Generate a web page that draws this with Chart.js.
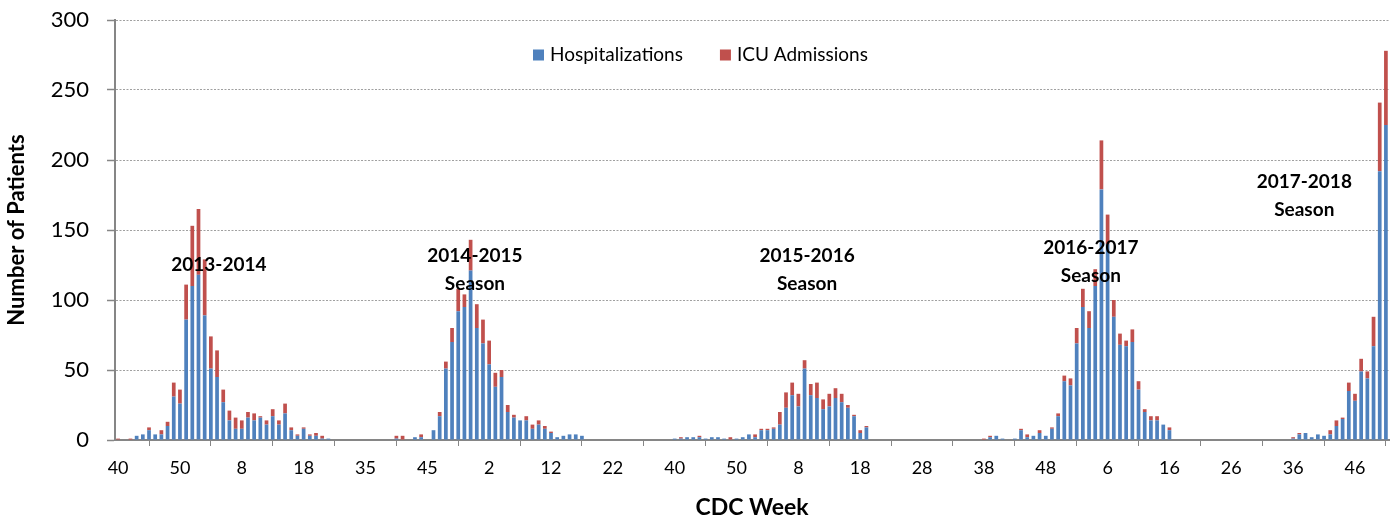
<!DOCTYPE html>
<html>
<head>
<meta charset="utf-8">
<script src="https://cdn.jsdelivr.net/npm/chart.js@4.4.1/dist/chart.umd.min.js"></script>
<style>
  html, body { margin: 0; padding: 0; background: #fff; }
  #wrap { width: 1395px; height: 522px; position: relative; }
</style>
</head>
<body>
<div id="wrap"><canvas id="chart"></canvas></div>
<script>
// CDC week numbers, one per bar slot (off-season weeks are partly left out)
const weeks = [
  40, 41, 42, 43, 44, 45, 46, 47, 48, 49, 50, 51, 52,
  1, 2, 3, 4, 5, 6, 7, 8, 9, 10, 11, 12, 13, 14, 15, 16, 17, 18,
  19, 20, 21, 22, 23, 31, 32, 33, 34,
  35, 36, 37, 38, 39, 40, 41, 42, 43, 44, 45,
  46, 47, 48, 49, 50, 51, 52, 53, 1, 2,
  3, 4, 5, 6, 7, 8, 9, 10, 11, 12, 13, 14, 15, 16, 17, 18, 19, 20, 21, 22,
  23, 24, 25, 26, 27, 36, 37, 38, 39,
  40, 41, 42, 43, 44, 45, 46, 47, 48, 49, 50, 51, 52,
  1, 2, 3, 4, 5, 6, 7, 8, 9, 10, 11, 12, 13, 14, 15, 16, 17, 18, 19, 20,
  21, 22, 23, 24, 25, 26, 27, 28, 29, 30, 31, 32, 33, 34, 35, 36, 37, 38, 39, 40,
  41, 42, 43, 44, 45, 46, 47, 48, 49, 50, 51, 52,
  1, 2, 3, 4, 5, 6, 7, 8, 9, 10, 11, 12, 13, 14, 15, 16, 17, 18, 19, 20,
  21, 22, 23, 24, 25, 26, 27, 28, 29, 30, 31, 32, 33, 34, 35, 36, 37, 38, 39, 40,
  41, 42, 43, 44, 45, 46, 47, 48, 49, 50, 51
];

const hospitalizations = [
  0, 0, 0, 3, 4, 7, 4, 4, 10, 31,
  26, 86, 110, 118, 89, 51, 45, 27, 14, 8,
  8, 16, 14, 16, 11, 17, 11, 19, 7, 3,
  8, 3, 3, 1, 1, 0, 0, 0, 0, 0,
  0, 0, 0, 0, 0, 1, 0, 0, 2, 2,
  0, 7, 17, 51, 70, 92, 95, 121, 80, 69,
  54, 38, 45, 20, 16, 14, 14, 8, 11, 8,
  5, 2, 3, 4, 4, 3, 0, 0, 0, 0,
  0, 0, 0, 0, 0, 0, 0, 0, 0, 0,
  1, 1, 2, 2, 2, 1, 2, 2, 1, 0,
  1, 2, 4, 2, 7, 7, 8, 11, 23, 32,
  24, 51, 32, 30, 22, 24, 30, 27, 23, 17,
  5, 9, 0, 0, 0, 0, 0, 0, 0, 0,
  0, 0, 0, 0, 0, 0, 0, 0, 0, 0,
  0, 2, 3, 1, 0, 1, 7, 2, 3, 5,
  3, 8, 17, 42, 39, 69, 95, 80, 110, 179,
  140, 88, 68, 67, 70, 36, 20, 14, 14, 11,
  7, 0, 0, 0, 0, 0, 0, 0, 0, 0,
  0, 0, 0, 0, 0, 0, 0, 0, 0, 0,
  1, 4, 5, 2, 4, 3, 4, 10, 15, 35,
  28, 49, 44, 67, 192, 225
];

const icuAdmissions = [
  1, 0, 1, 0, 0, 2, 0, 3, 3, 10,
  10, 25, 43, 47, 40, 23, 19, 9, 7, 8,
  6, 4, 5, 1, 3, 5, 3, 7, 2, 1,
  1, 1, 2, 2, 0, 0, 0, 0, 0, 0,
  0, 0, 0, 0, 0, 2, 3, 0, 0, 2,
  0, 0, 3, 5, 10, 16, 9, 22, 17, 17,
  17, 10, 5, 5, 2, 0, 3, 3, 3, 2,
  1, 0, 0, 0, 0, 0, 0, 0, 0, 0,
  0, 0, 0, 0, 0, 0, 0, 0, 0, 0,
  0, 1, 0, 0, 1, 0, 0, 0, 0, 2,
  0, 0, 0, 2, 1, 1, 1, 9, 11, 9,
  9, 6, 8, 11, 7, 9, 7, 6, 2, 1,
  2, 1, 0, 0, 0, 0, 0, 0, 0, 0,
  0, 0, 0, 0, 0, 0, 0, 0, 0, 0,
  1, 1, 0, 0, 0, 0, 1, 2, 0, 2,
  0, 1, 2, 4, 5, 11, 13, 12, 12, 35,
  21, 12, 8, 4, 9, 6, 2, 3, 3, 0,
  2, 0, 0, 0, 0, 0, 0, 0, 0, 0,
  0, 0, 0, 0, 0, 0, 0, 0, 0, 0,
  1, 1, 0, 0, 0, 0, 3, 4, 1, 6,
  5, 9, 5, 21, 49, 53
];

const yTicks = [0, 50, 100, 150, 200, 250, 300];

// season captions: text lines, bar slot they sit over, patient value of the first line
const seasonText = [["2013-2014"], ["2014-2015", "Season"], ["2015-2016", "Season"], ["2016-2017", "Season"], ["2017-2018", "Season"]];
const seasonSlot = [16.3, 57.7, 111.4, 157.3, 191.8];
const seasonValue = [125, 131.4, 131.4, 137.1, 184.3];

const BLUE = '#4f81bd';
const RED = '#c0504d';
const AXIS_GREY = '#868686';
const FONT = 'Lato';

// the legend sits inside the plot, a bit left of centre
const LEGEND_X = 533;
const LEGEND_Y = 55;

const insideLegend = {
  id: 'insideLegend',
  afterDraw(chart) {
    const { ctx } = chart;
    ctx.save();
    ctx.font = `19px ${FONT}`;
    ctx.textBaseline = 'middle';
    let x = LEGEND_X;
    chart.data.datasets.forEach((ds) => {
      ctx.fillStyle = ds.backgroundColor;
      ctx.fillRect(x, LEGEND_Y - 5.5, 11, 11);
      ctx.fillStyle = '#000';
      ctx.fillText(ds.label, x + 17, LEGEND_Y);
      x += 17 + ctx.measureText(ds.label).width + 37;
    });
    ctx.restore();
  }
};

const seasonLabels = {
  id: 'seasonLabels',
  afterDatasetsDraw(chart) {
    const { ctx, scales: { x, y } } = chart;
    ctx.save();
    ctx.font = `bold 19px ${FONT}`;
    ctx.fillStyle = '#000';
    ctx.textAlign = 'center';
    ctx.textBaseline = 'middle';
    seasonText.forEach((lines, i) => {
      const px = x.getPixelForValue(seasonSlot[i]);
      const py = y.getPixelForValue(seasonValue[i]);
      lines.forEach((line, j) => ctx.fillText(line, px, py + j * 28));
    });
    ctx.restore();
  }
};

new Chart(document.getElementById('chart'), {
  type: 'bar',
  data: {
    labels: weeks,
    datasets: [
      { label: 'Hospitalizations', data: hospitalizations, backgroundColor: BLUE, borderWidth: 0 },
      { label: 'ICU Admissions', data: icuAdmissions, backgroundColor: RED, borderWidth: 0 }
    ]
  },
  options: {
    responsive: true,
    maintainAspectRatio: false,
    animation: false,
    layout: { padding: { left: 0, top: 20, right: 6, bottom: 0 } },
    datasets: { bar: { categoryPercentage: 1, barPercentage: 0.6 } },
    plugins: {
      legend: { display: false },
      tooltip: { enabled: false }
    },
    scales: {
      x: {
        stacked: true,
        afterFit: (scale) => { scale.height = 82; },
        grid: { offset: true, drawOnChartArea: false, drawTicks: true, tickLength: 6, color: AXIS_GREY, tickColor: AXIS_GREY },
        border: { color: AXIS_GREY, width: 2 },
        ticks: {
          autoSkip: false, maxRotation: 0, minRotation: 0, padding: 11,
          color: '#000', font: { family: FONT, size: 18 },
          callback: (value, index) => index % 10 === 0 ? String(weeks[index]) : null
        },
        title: { display: true, text: 'CDC Week', color: '#000', font: { family: FONT, size: 23, weight: 'bold' }, padding: { top: 0, bottom: 1 } }
      },
      y: {
        stacked: true,
        min: 0,
        max: 300,
        afterFit: (scale) => {
          scale.width = 115;
          // labels at the ends may overhang the plot; the layout padding covers it
          scale.paddingTop = 0;
          scale.paddingBottom = 0;
        },
        afterBuildTicks: (scale) => { scale.ticks = yTicks.map((v) => ({ value: v })); },
        grid: { color: '#a0a0a0', lineWidth: 1, tickLength: 8, tickColor: AXIS_GREY, tickWidth: 1.5 },
        border: { color: AXIS_GREY, width: 2, dash: [2, 1.5] },
        ticks: { padding: 18, color: '#000', font: { family: FONT, size: 22 } },
        title: { display: true, text: 'Number of Patients', color: '#000', font: { family: FONT, size: 22, weight: 'bold' }, padding: { top: 4, bottom: 0 } }
      }
    }
  },
  plugins: [insideLegend, seasonLabels]
});
</script>
</body>
</html>
